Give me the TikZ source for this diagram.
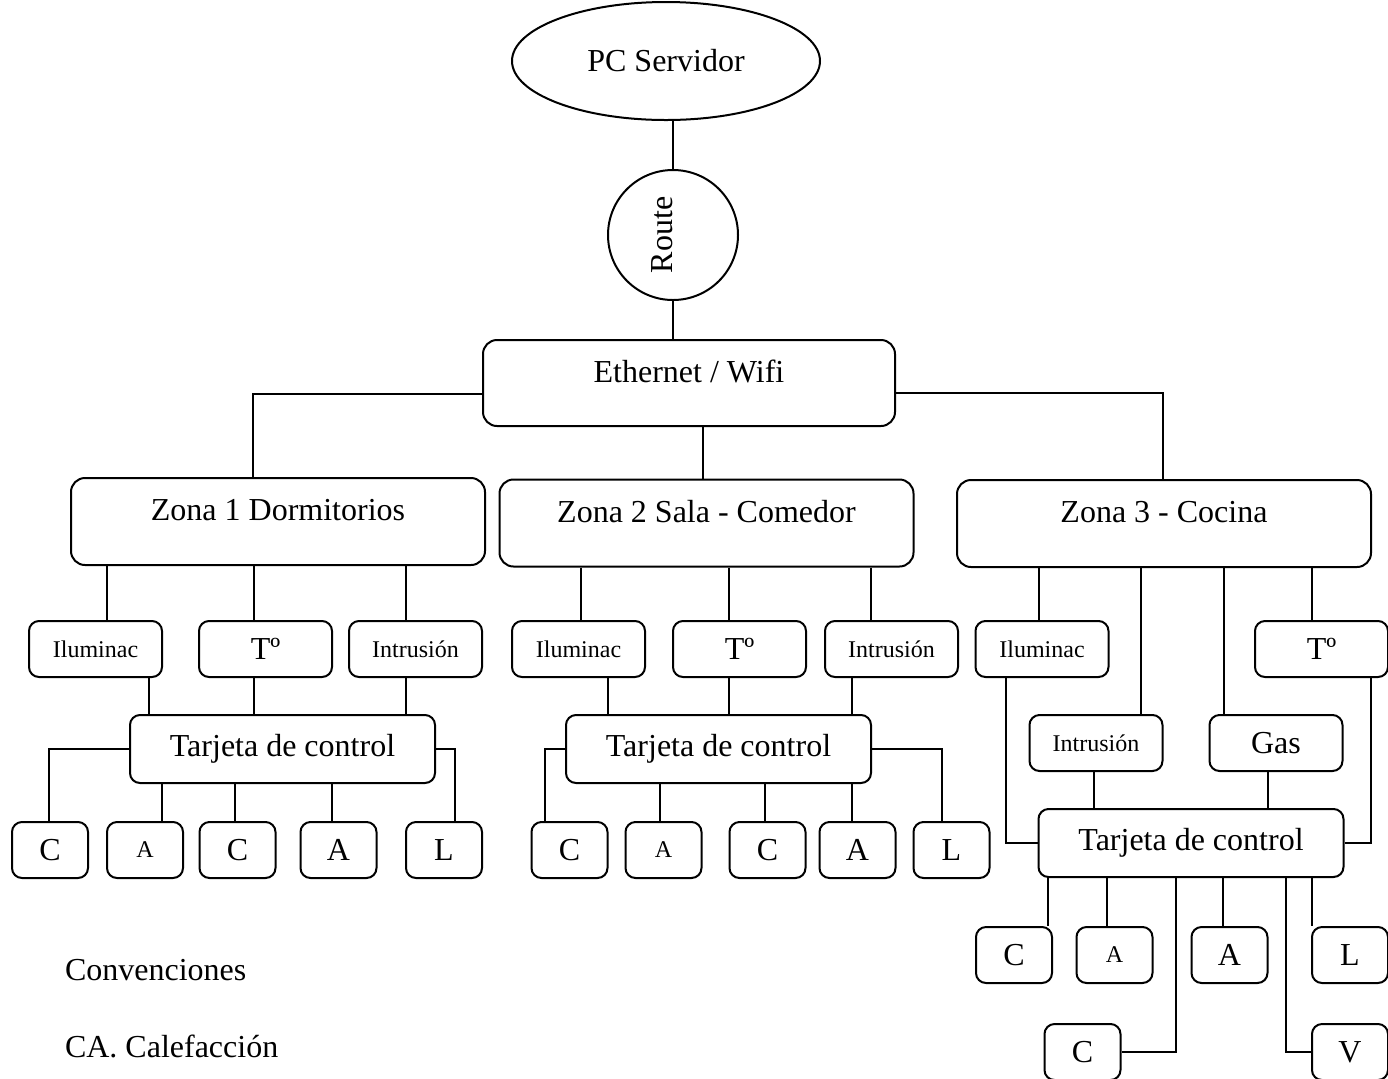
\documentclass[tikz,border=0pt]{standalone}
\usepackage{fontspec}
\setmainfont{Liberation Serif}
\usetikzlibrary{shapes.geometric}
\tikzset{
	grande/.style={font=\fontsize{16}{19}\selectfont},
	chico/.style={font=\fontsize{12}{14}\selectfont},
	caja/.style={draw,rounded corners=5pt},
	zona/.style={caja,grande,rounded corners=7pt,minimum width=207pt,minimum height=43.5pt,text height=8pt,text depth=9pt},
	sensor/.style={caja,chico,minimum width=66.5pt,minimum height=28pt},
	tarjeta/.style={caja,grande,minimum width=152.5pt,minimum height=34pt},
	act/.style={caja,grande,minimum width=38pt,minimum height=28pt}
}
\begin{document}
\begin{tikzpicture}[x=0.5pt,y=-0.5pt,line width=1pt]
		\useasboundingbox (0,0) rectangle (1388,1078);
		%Servidor y router
			\node[draw,ellipse,grande,minimum width=154pt,minimum height=59pt] (pc) at (666,61) {PC Servidor};
			\node[draw,circle,grande,minimum size=65pt,rotate=90,text height=8pt,text depth=8.5pt] (router) at (673,235) {Route};
			\node[zona,minimum width=206pt,minimum height=43pt] (eth) at (689,383) {Ethernet / Wifi};
		%Zonas
			\node[zona] (z1) at (278,521.5) {Zona 1 Dormitorios};
			\node[zona] (z2) at (706.5,523) {Zona 2 Sala - Comedor};
			\node[zona] (z3) at (1164,523.5) {Zona 3 - Cocina};
		%Zona 1
			\node[sensor] (ilu1) at (95.5,649) {Iluminac};
			\node[sensor,grande] (t1) at (265.5,649) {Tº};
			\node[sensor] (in1) at (415.5,649) {Intrusión};
			\node[tarjeta] (tc1) at (282.5,749) {Tarjeta de control};
			\node[act] (c11) at (50,850) {C};
			\node[act,chico] (a11) at (145,850) {A};
			\node[act] (c12) at (237.5,850) {C};
			\node[act] (a12) at (338.5,850) {A};
			\node[act] (l1) at (444,850) {L};
		%Zona 2
			\node[sensor] (ilu2) at (578.5,649) {Iluminac};
			\node[sensor,grande] (t2) at (739.5,649) {Tº};
			\node[sensor] (in2) at (891.5,649) {Intrusión};
			\node[tarjeta] (tc2) at (718.5,749) {Tarjeta de control};
			\node[act] (c21) at (569.5,850) {C};
			\node[act,chico] (a21) at (663.5,850) {A};
			\node[act] (c22) at (767.5,850) {C};
			\node[act] (a22) at (857.5,850) {A};
			\node[act] (l2) at (951.5,850) {L};
		%Zona 3
			\node[sensor] (ilu3) at (1042,649) {Iluminac};
			\node[sensor,grande] (t3) at (1321.5,649) {Tº};
			\node[sensor] (in3) at (1096,743) {Intrusión};
			\node[sensor,grande] (gas) at (1276,743) {Gas};
			\node[tarjeta] (tc3) at (1191,843) {Tarjeta de control};
			\node[act] (c31) at (1014,955) {C};
			\node[act,chico] (a31) at (1114.5,955) {A};
			\node[act] (a32) at (1229.5,955) {A};
			\node[act] (l3) at (1350,955) {L};
			\node[act] (c32) at (1082.5,1052) {C};
			\node[act] (v3) at (1350,1052) {V};
		%Convenciones
			\node[grande,anchor=west,inner sep=0] (conv) at (64,970) {Convenciones};
			\node[grande,anchor=west,inner sep=0] (cale) at (64,1046) {CA. Calefacción};
		%Conexiones
			\draw (pc.south -| router.east) -- (router.east);
			\draw (router.west) -- (eth.north -| router.west);
			\draw (eth.west) ++(0,11) -| (z1.north -| 253,0);
			\draw (eth.south -| 703,0) -- (z2.north -| 703,0);
			\draw (eth.east) ++(0,10) -| (z3.north -| 1163,0);
			\foreach \de/\a/\x in {z1/ilu1/107,z1/t1/254,z1/in1/406,ilu1/tc1/149,t1/tc1/254,in1/tc1/406,tc1/a11/162,tc1/c12/235,tc1/a12/332,
				z2/ilu2/581,z2/t2/729,z2/in2/871,ilu2/tc2/608,t2/tc2/729,in2/tc2/852,tc2/a21/660,tc2/c22/765,tc2/a22/852,
				z3/ilu3/1039,z3/in3/1141,z3/gas/1224,z3/t3/1312,in3/tc3/1094,gas/tc3/1268,tc3/c31/1048,tc3/a31/1107,tc3/a32/1223,tc3/l3/1312}
			{
				\draw (\de.south -| \x,0) -- (\a.north -| \x,0);
			}
			\draw (tc1.west) -| (c11.north -| 49,0);
			\draw (tc1.east) -| (l1.north -| 455,0);
			\draw (tc2.west) -| (c21.north -| 545,0);
			\draw (tc2.east) -| (l2.north -| 942,0);
			\draw (ilu3.south -| 1006,0) |- (tc3.west);
			\draw (t3.south -| 1371,0) |- (tc3.east);
			\draw (tc3.south -| 1176,0) |- (c32.east);
			\draw (tc3.south -| 1286,0) |- (v3.west);
	\end{tikzpicture}
\end{document}
